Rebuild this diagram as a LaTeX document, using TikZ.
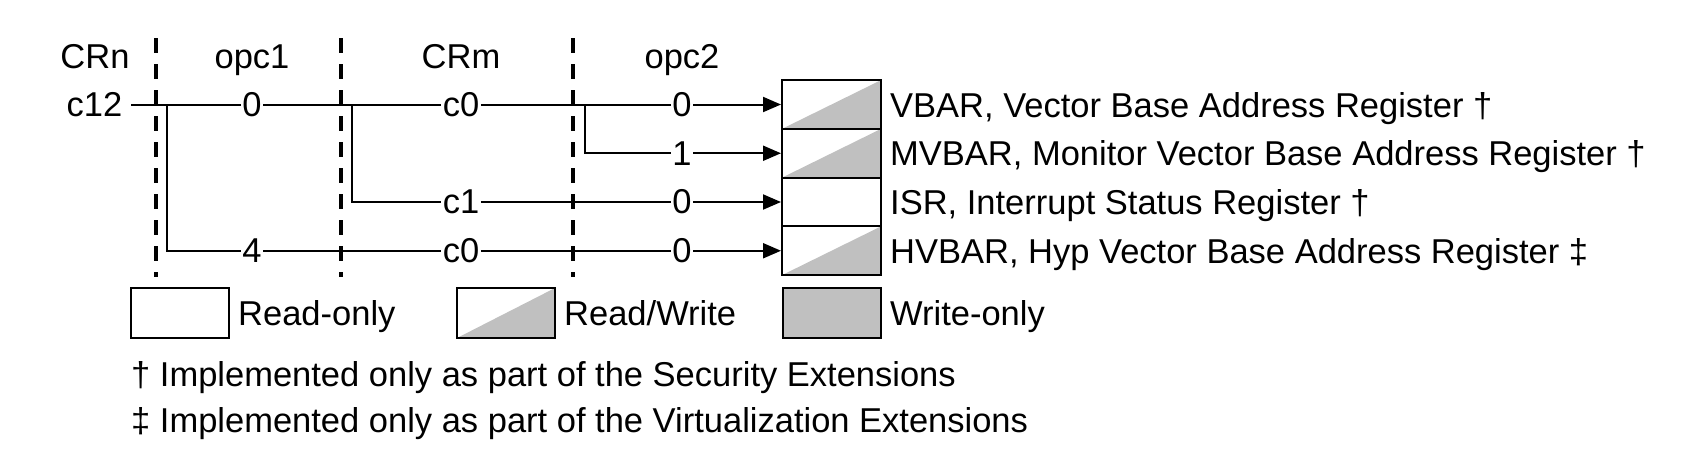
\documentclass[tikz,border=0pt]{standalone}
\usepackage{fontspec}
\setmainfont{Liberation Sans}
\usetikzlibrary{arrows.meta}
\definecolor{regfill}{RGB}{192,192,192}
\tikzset{
  txt/.style={font=\fontsize{34.5}{40}\selectfont, inner sep=0pt},
  wire/.style={line width=2pt, draw=black},
  arr/.style={wire, -{Triangle[length=18pt,width=15pt]}},
  lbl/.style={txt, fill=white, inner xsep=1.5pt, inner ysep=1pt},
  divline/.style={line width=4pt, dash pattern=on 15pt off 11pt},
  regbox/.style={draw, line width=2pt, minimum width=99pt, minimum height=48.75pt, inner sep=0pt},
  rw/.style={regbox, path picture={\fill[regfill] (path picture bounding box.south west) -- (path picture bounding box.south east) -- (path picture bounding box.north east) -- cycle;}},
  ro/.style={regbox, fill=white},
  wo/.style={regbox, fill=regfill},
  legbox/.style={minimum width=98pt, minimum height=50pt}
}
\begin{document}
\begin{tikzpicture}[x=1pt,y=-1pt]
\useasboundingbox (0,0) rectangle (1690,467);
% column dividers
\draw[divline] (156,38) -- (156,277);
\draw[divline] (341,38) -- (341,277);
\draw[divline] (573,38) -- (573,277);
% headers
\node[txt, anchor=base] (hcrn) at (95,68) {CRn};
\node[txt, anchor=base] (hopc1) at (252,68) {opc1};
\node[txt, anchor=base] (hcrm) at (461,68) {CRm};
\node[txt, anchor=base] (hopc2) at (682,68) {opc2};
% source
\node[txt, inner xsep=8.7pt] (c12) at (94.5,104.5) {c12};
% registers
\node[rw] (vbar) at (831.5,104.5) {};
\node[rw] (mvbar) at (831.5,153.25) {};
\node[ro] (isr) at (831.5,202) {};
\node[rw] (hvbar) at (831.5,250.75) {};
\node[txt, anchor=base west] (tvbar) at (890,117) {VBAR, Vector Base Address Register †};
\node[txt, anchor=base west] (tmvbar) at (890,165.7) {MVBAR, Monitor Vector Base Address Register †};
\node[txt, anchor=base west] (tisr) at (890,214.4) {ISR, Interrupt Status Register †};
\node[txt, anchor=base west] (thvbar) at (890,263.2) {HVBAR, Hyp Vector Base Address Register ‡};
% branch points
\coordinate (b1) at (167,104.5);
\coordinate (b2) at (352,104.5);
\coordinate (b3) at (585,104.5);
% line labels
\node[lbl] (r1a) at (252,104.5) {0};
\node[lbl] (r1b) at (461,104.5) {c0};
\node[lbl] (r1c) at (682,104.5) {0};
\node[lbl] (r2c) at (682,153.25) {1};
\node[lbl] (r3b) at (461,202) {c1};
\node[lbl] (r3c) at (682,202) {0};
\node[lbl] (r4a) at (252,250.75) {4};
\node[lbl] (r4b) at (461,250.75) {c0};
\node[lbl] (r4c) at (682,250.75) {0};
% connectors
\draw[wire] (c12) -- (r1a);
\draw[wire] (r1a) -- (r1b);
\draw[wire] (r1b) -- (r1c);
\draw[arr] (r1c) -- (vbar);
\draw[wire] (b3) |- (r2c);
\draw[arr] (r2c) -- (mvbar);
\draw[wire] (b2) |- (r3b);
\draw[wire] (r3b) -- (r3c);
\draw[arr] (r3c) -- (isr);
\draw[wire] (b1) |- (r4a);
\draw[wire] (r4a) -- (r4b);
\draw[wire] (r4b) -- (r4c);
\draw[arr] (r4c) -- (hvbar);
% legend
\node[ro, legbox] (lro) at (180,313) {};
\node[rw, legbox] (lrw) at (506,313) {};
\node[wo, legbox] (lwo) at (831.5,313) {};
\node[txt, anchor=base west] (tro) at (238,325) {Read-only};
\node[txt, anchor=base west] (trw) at (564,325) {Read/Write};
\node[txt, anchor=base west] (two) at (890,325) {Write-only};
\node[txt, anchor=base west] (fn1) at (131,386) {† Implemented only as part of the Security Extensions};
\node[txt, anchor=base west] (fn2) at (131,432) {‡ Implemented only as part of the Virtualization Extensions};
\end{tikzpicture}
\end{document}
